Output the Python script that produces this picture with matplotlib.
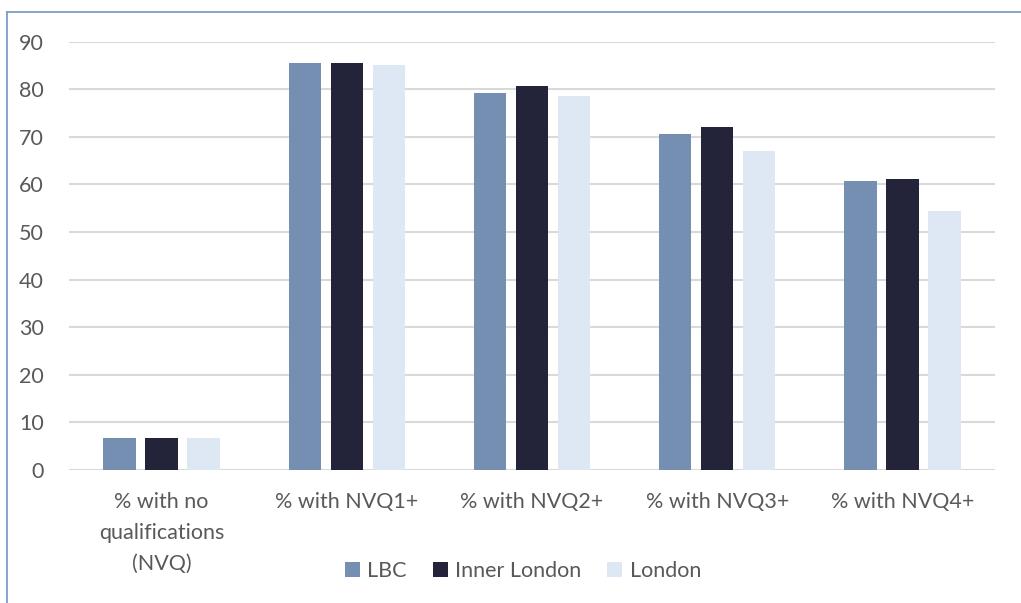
import matplotlib.pyplot as plt
import numpy as np
from matplotlib.lines import Line2D

# qualification levels, working-age population (%)
categories = ['% with no\nqualifications\n(NVQ)', '% with NVQ1+', '% with NVQ2+',
              '% with NVQ3+', '% with NVQ4+']
series_names = ['LBC', 'Inner London', 'London']
lbc = [6.7, 85.6, 79.2, 70.7, 60.7]
inner_london = [6.7, 85.6, 80.6, 72.0, 61.1]
london = [6.7, 85.0, 78.5, 67.0, 54.4]
colours = ['#758fb3', '#23233a', '#dde8f4']

plt.rcParams['font.family'] = ['Lato', 'DejaVu Sans']
text_col = '#595959'
fs = 15.5

fig = plt.figure(figsize=(10.21, 6.03), dpi=100)
W, H = 1021, 603
ax = fig.add_axes([69 / W, 1 - 470 / H, (995 - 69) / W, (470 - 41.7) / H])

x = np.arange(len(categories))
width = 0.175
step = 0.227
for i, (vals, name) in enumerate(zip([lbc, inner_london, london], series_names)):
    ax.bar(x + (i - 1) * step, vals, width, color=colours[i], label=name, zorder=3)

ax.set_xlim(-0.5, len(categories) - 0.5)
ax.set_ylim(0, 90)
ax.set_yticks(range(0, 91, 10))
ax.grid(axis='y', color='#d9d9d9', linewidth=1.5, zorder=0)
ax.set_axisbelow(True)
for s in ax.spines.values():
    s.set_visible(False)
ax.tick_params(axis='both', length=0, labelsize=fs, colors=text_col)
ax.tick_params(axis='y', pad=18)
ax.tick_params(axis='x', pad=16)
ax.set_xticks(x)
ax.set_xticklabels(categories, linespacing=1.68)

fig.legend(loc='center', bbox_to_anchor=(523 / W, 1 - 571 / H), ncol=3, frameon=False,
           fontsize=fs, labelcolor=text_col, handlelength=0.7, handleheight=0.7,
           handletextpad=0.35, columnspacing=1.2)

# outer chart frame (top and left edges visible)
fig.add_artist(Line2D([6.5 / W, 6.5 / W], [0, 1 - 11.5 / H], color='#7f9cc6', lw=1.3))
fig.add_artist(Line2D([6.5 / W, 1], [1 - 11.5 / H, 1 - 11.5 / H], color='#7f9cc6', lw=1.3))

fig.savefig('out.png', dpi=100)
